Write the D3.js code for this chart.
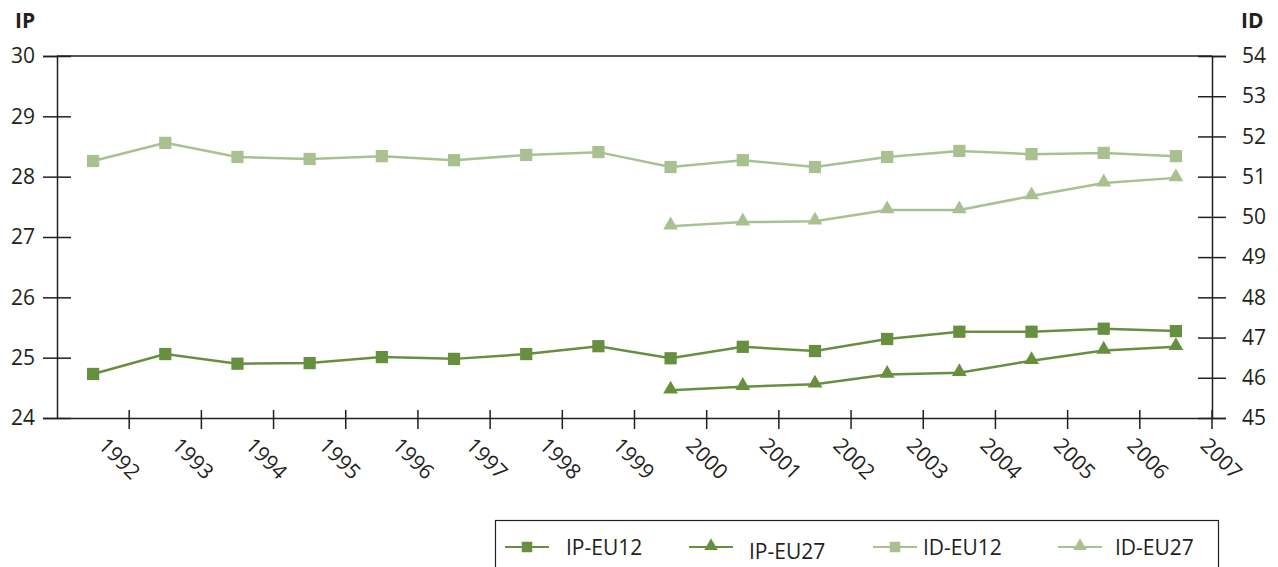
<!DOCTYPE html>
<html>
<head>
<meta charset="utf-8">
<script src="https://cdn.jsdelivr.net/npm/d3@7"></script>
<style>
  body { margin: 0; background: #fff; }
  svg text { font-family: "Open Sans", sans-serif; fill: #231f20; }
</style>
</head>
<body>
<svg id="chart" width="1278" height="567"></svg>
<script>
// data
var years = ['1992','1993','1994','1995','1996','1997','1998','1999','2000','2001','2002','2003','2004','2005','2006','2007'];
var ipEU12 = [24.73, 25.06, 24.90, 24.91, 25.01, 24.98, 25.06, 25.19, 24.99, 25.18, 25.11, 25.31, 25.43, 25.43, 25.48, 25.44];
var ipEU27 = [null, null, null, null, null, null, null, null, 24.46, 24.52, 24.56, 24.72, 24.75, 24.95, 25.12, 25.18];
var idEU12 = [51.39, 51.84, 51.49, 51.44, 51.51, 51.41, 51.54, 51.61, 51.24, 51.41, 51.24, 51.49, 51.64, 51.56, 51.59, 51.51];
var idEU27 = [null, null, null, null, null, null, null, null, 49.77, 49.87, 49.89, 50.17, 50.17, 50.52, 50.84, 50.97];
var leftTicks = [24, 25, 26, 27, 28, 29, 30];
var rightTicks = [45, 46, 47, 48, 49, 50, 51, 52, 53, 54];

var dark = '#66903f', light = '#a9c191', axisCol = '#231f20';

var svg = d3.select('#chart');
var plotL = 57, plotR = 1212, plotT = 56, plotB = 418;

var x = d3.scaleBand().domain(years).range([plotL, plotR]);
var labelX = d3.scalePoint().domain(years).range([120, 1222]);
var yL = d3.scaleLinear().domain([24, 30]).range([plotB, plotT]);
var yR = d3.scaleLinear().domain([45, 54]).range([plotB, plotT]);

var series = [
  { name: 'IP-EU12', values: ipEU12, y: yL, color: dark, shape: 'square' },
  { name: 'IP-EU27', values: ipEU27, y: yL, color: dark, shape: 'triangle' },
  { name: 'ID-EU12', values: idEU12, y: yR, color: light, shape: 'square' },
  { name: 'ID-EU27', values: idEU27, y: yR, color: light, shape: 'triangle' }
];

// axes frame
var axisG = svg.append('g');
axisG.append('line').attr('x1', plotL).attr('x2', plotR).attr('y1', plotT).attr('y2', plotT)
  .attr('stroke', axisCol).attr('stroke-width', 1.5);

var gL = axisG.append('g').attr('transform', 'translate(' + plotL + ',0)')
  .call(d3.axisLeft(yL).tickValues(leftTicks).tickSize(14).tickPadding(8).tickFormat(d3.format('d')));
gL.selectAll('.tick line').attr('x2', 14).attr('x1', -14);

var gR = axisG.append('g').attr('transform', 'translate(' + plotR + ',0)')
  .call(d3.axisRight(yR).tickValues(rightTicks).tickSize(14).tickPadding(16).tickFormat(d3.format('d')));
gR.selectAll('.tick line').attr('x1', -14).attr('x2', 14);

var gB = axisG.append('g').attr('transform', 'translate(0,' + plotB + ')')
  .call(d3.axisBottom(x).tickSize(0).tickFormat(''));
// ticks at right edge of each band
gB.selectAll('.tick').remove();
gB.selectAll('.yt').data(years).enter().append('line')
  .attr('x1', function (d) { return x(d) + x.bandwidth(); })
  .attr('x2', function (d) { return x(d) + x.bandwidth(); })
  .attr('y1', -8).attr('y2', 11)
  .attr('stroke', axisCol).attr('stroke-width', 1.5);

svg.selectAll('.domain').attr('stroke', axisCol).attr('stroke-width', 1.5);
svg.selectAll('.tick line').attr('stroke', axisCol).attr('stroke-width', 1.5);
svg.selectAll('.tick text').style('font-size', '21px').attr('fill', axisCol);

// year labels, rotated
svg.append('g').selectAll('text').data(years).enter().append('text')
  .attr('transform', function (d) { return 'translate(' + labelX(d) + ',458) rotate(45)'; })
  .attr('text-anchor', 'middle')
  .attr('dominant-baseline', 'central')
  .style('font-size', '21px')
  .text(function (d) { return d; });

// axis titles
svg.append('text').attr('x', 15).attr('y', 28).style('font-size', '21px').style('font-weight', 'bold').text('IP');
svg.append('text').attr('x', 1241).attr('y', 28).style('font-size', '21px').style('font-weight', 'bold').text('ID');

var sq = d3.symbol().type(d3.symbolSquare).size(150);
var tri = d3.symbol().type(d3.symbolTriangle).size(95);

// lines + markers (light series first)
series.slice().reverse().forEach(function (s) {
  var pts = years.map(function (yr, i) { return { yr: yr, v: s.values[i] }; })
    .filter(function (p) { return p.v != null; });
  var line = d3.line()
    .x(function (p) { return x(p.yr) + x.bandwidth() / 2; })
    .y(function (p) { return s.y(p.v); });
  svg.append('path').datum(pts)
    .attr('d', line).attr('fill', 'none')
    .attr('stroke', s.color).attr('stroke-width', 2.5);
  svg.append('g').selectAll('path').data(pts).enter().append('path')
    .attr('d', s.shape === 'square' ? sq : tri)
    .attr('transform', function (p) {
      return 'translate(' + (x(p.yr) + x.bandwidth() / 2) + ',' + (s.y(p.v) + (s.shape === 'square' ? 0 : -1)) + ')';
    })
    .attr('fill', s.color);
});

// legend
var legend = svg.append('g');
legend.append('rect').attr('x', 495.5).attr('y', 520.5).attr('width', 723).attr('height', 60)
  .attr('fill', 'none').attr('stroke', axisCol).attr('stroke-width', 1.2);
var legX = [505, 689, 873, 1058];
var legTextDy = [0, 4, 0, 0];
series.forEach(function (s, i) {
  var g = legend.append('g').attr('transform', 'translate(' + legX[i] + ',547)');
  g.append('line').attr('x1', 0).attr('x2', 44).attr('stroke', s.color).attr('stroke-width', 2);
  g.append('path').attr('d', s.shape === 'square' ? d3.symbol().type(d3.symbolSquare).size(110)
      : d3.symbol().type(d3.symbolTriangle).size(80))
    .attr('transform', 'translate(22,' + (s.shape === 'square' ? 0 : -1) + ')')
    .attr('fill', s.color);
  g.append('text').attr('x', i === 0 ? 61 : (i === 1 ? 60 : (i === 2 ? 50 : 57)))
    .attr('y', legTextDy[i]).attr('dominant-baseline', 'central')
    .style('font-size', '21px').text(s.name);
});
</script>
</body>
</html>
